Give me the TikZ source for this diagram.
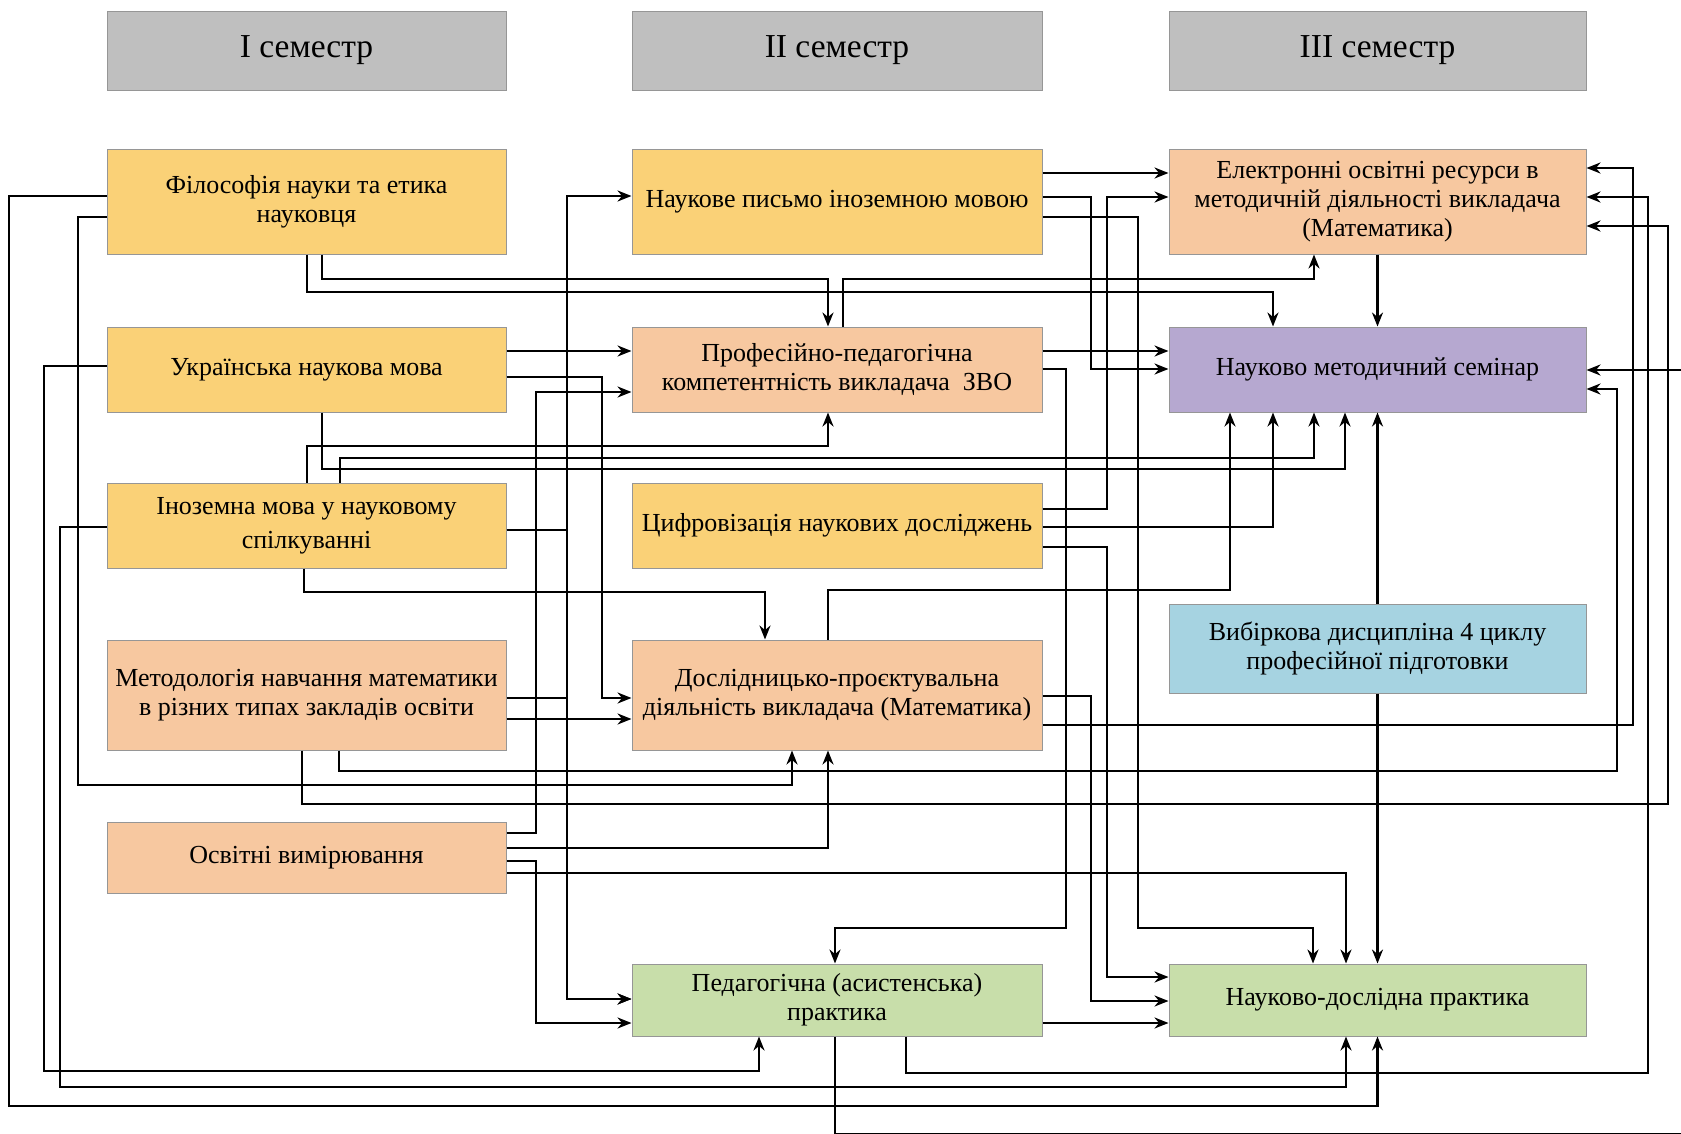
\documentclass[tikz,border=0pt]{standalone}
\usepackage{fontspec}
\setmainfont{Liberation Serif}
\usepackage{xcolor}
\usetikzlibrary{arrows.meta}
\definecolor{semgray}{RGB}{191,191,191}
\definecolor{yel}{RGB}{250,209,119}
\definecolor{peach}{RGB}{247,200,160}
\definecolor{lilac}{RGB}{182,168,208}
\definecolor{skyb}{RGB}{166,211,225}
\definecolor{grn}{RGB}{200,222,170}
\definecolor{rim}{RGB}{150,150,150}

\begin{document}
\begin{tikzpicture}[x=1pt,y=-1pt,
  box/.style={draw=rim,line width=1pt,align=center,inner sep=0pt,
    font=\fontsize{26}{29}\selectfont},
  c1/.style={box,minimum width=399pt},
  c2/.style={box,minimum width=410pt},
  c3/.style={box,minimum width=417pt},
  head/.style={fill=semgray,minimum height=79pt,font=\fontsize{33.5}{38}\selectfont},
  link/.style={line width=2.4pt,-{Stealth[length=14pt,width=11pt]}}]
\useasboundingbox[fill=white] (0,0) rectangle (1681,1133);

\node[c1,head] (h1) at (306.5,50.5) {I семестр};
\node[c2,head] (h2) at (837,50.5) {II семестр};
\node[c3,head] (h3) at (1377.5,50.5) {III семестр};

\node[c1,fill=yel,minimum height=105pt] (fil) at (306.5,201.5) {Філософія науки та етика\\науковця};
\node[c1,fill=yel,minimum height=85pt] (ukr) at (306.5,369.5) {Українська наукова мова};
\node[c1,fill=yel,minimum height=85pt] (inoz) at (306.5,525.5) {Іноземна мова у науковому\\[5pt]спілкуванні};
\node[c1,fill=peach,minimum height=110pt] (met) at (306.5,695) {Методологія навчання математики\\в різних типах закладів освіти};
\node[c1,fill=peach,minimum height=71pt] (osv) at (306.5,857.5) {Освітні вимірювання};

\node[c2,fill=yel,minimum height=105pt] (nauk) at (837,201.5) {Наукове письмо іноземною мовою};
\node[c2,fill=peach,minimum height=85pt] (prof) at (837,369.5) {Професійно-педагогічна\\компетентність викладача\ \ ЗВО};
\node[c2,fill=yel,minimum height=85pt] (cyf) at (837,525.5) {Цифровізація наукових досліджень};
\node[c2,fill=peach,minimum height=110pt] (dosl) at (837,695) {Дослідницько-проєктувальна\\діяльність викладача (Математика)};
\node[c2,fill=grn,minimum height=72pt] (ped) at (837,1000) {Педагогічна (асистенська)\\практика};

\node[c3,fill=peach,minimum height=105pt] (elr) at (1377.5,201.5) {Електронні освітні ресурси в\\методичній діяльності викладача\\(Математика)};
\node[c3,fill=lilac,minimum height=85pt] (sem) at (1377.5,369.5) {Науково методичний семінар};
\node[c3,fill=skyb,minimum height=89pt] (vyb) at (1377.5,648.5) {Вибіркова дисципліна 4 циклу\\професійної підготовки};
\node[c3,fill=grn,minimum height=72pt] (ndp) at (1377.5,1000) {Науково-дослідна практика};

% I семестр
\draw[link] (fil.south -| 307,0) |- (1273,292) -- (sem.north -| 1273,0);
\draw[link] (fil.south -| 322,0) |- (828,279) -- (prof.north -| 828,0);
\draw[link] (fil.west |- 0,217) -| (78,785) -| (dosl.south -| 792,0);
\draw[link] (fil.west |- 0,196) -| (9,1106) -| (ndp.south);
\draw[link] (ukr.east |- 0,351) -- (prof.west |- 0,351);
\draw[link] (ukr.east |- 0,377) -| (602,698) -- (dosl.west |- 0,698);
\draw[link] (ukr.south -| 322,0) |- (1345,469) -- (sem.south -| 1345,0);
\draw[link] (ukr.west |- 0,366) -| (44,1071) -| (ped.south -| 759,0);
\draw[link] (inoz.east |- 0,530) -| (567,196) -- (nauk.west |- 0,196);
\draw[link] (inoz.east |- 0,530) -| (567,999) -- (ped.west |- 0,999);
\draw[link] (inoz.north -| 307,0) |- (828,446) -- (prof.south -| 828,0);
\draw[link] (inoz.north -| 340,0) |- (1314,458) -- (sem.south -| 1314,0);
\draw[link] (inoz.south -| 304,0) |- (765,592) -- (dosl.north -| 765,0);
\draw[link] (inoz.west |- 0,527) -| (60,1087) -| (ndp.south -| 1346,0);
\draw[link] (met.east |- 0,698) -| (567,999) -- (ped.west |- 0,999);
\draw[link] (met.east |- 0,719) -- (dosl.west |- 0,719);
\draw[link] (met.south -| 339,0) |- (1617,771) |- (sem.east |- 0,389);
\draw[link] (met.south -| 302,0) |- (1668,804) |- (elr.east |- 0,226);
\draw[link] (osv.east |- 0,833) -| (536,392) -- (prof.west |- 0,392);
\draw[link] (osv.east |- 0,848) -| (dosl.south -| 828,0);
\draw[link] (osv.east |- 0,861) -| (536,1023) -- (ped.west |- 0,1023);
\draw[link] (osv.east |- 0,873) -| (ndp.north -| 1346,0);

% II семестр
\draw[link] (nauk.east |- 0,173) -- (elr.west |- 0,173);
\draw[link] (nauk.east |- 0,197) -| (1091,369) -- (sem.west |- 0,369);
\draw[link] (nauk.east |- 0,217) -| (1138,928) -| (ndp.north -| 1313,0);
\draw[link] (prof.north -| 843,0) |- (1314,279) -- (elr.south -| 1314,0);
\draw[link] (prof.east |- 0,351) -- (sem.west |- 0,351);
\draw[link] (prof.east |- 0,369) -| (1066,928) -| (ped.north -| 835,0);
\draw[link] (cyf.east |- 0,509) -| (1107,197) -- (elr.west |- 0,197);
\draw[link] (cyf.east |- 0,527) -| (sem.south -| 1273,0);
\draw[link] (cyf.east |- 0,547) -| (1107,977) -- (ndp.west |- 0,977);
\draw[link] (dosl.north -| 828,0) |- (1230,590) -- (sem.south -| 1230,0);
\draw[link] (dosl.east |- 0,696) -| (1091,1001) -- (ndp.west |- 0,1001);
\draw[link] (dosl.east |- 0,725) -| (1633,168) -- (elr.east |- 0,168);
\draw[link] (ped.east |- 0,1023) -- (ndp.west |- 0,1023);
\draw[link] (ped.south -| 906,0) |- (1648,1073) |- (elr.east |- 0,197);
\draw[link] (ped.south -| 835,0) |- (1692,1134) |- (sem.east |- 0,370);

% III семестр
\draw[link] (elr.south) -- (sem.north);
\draw[link] (vyb.north) -- (sem.south);
\draw[link] (vyb.south) -- (ndp.north);
\end{tikzpicture}
\end{document}
